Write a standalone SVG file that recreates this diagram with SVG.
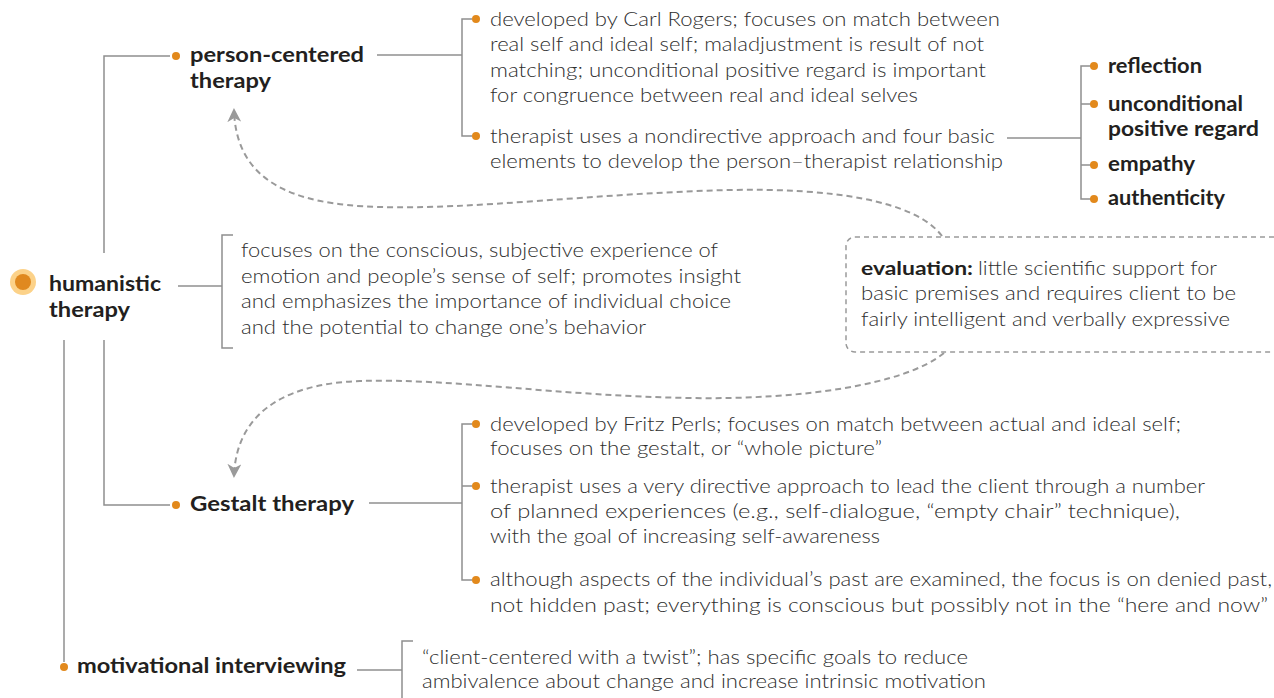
<svg xmlns="http://www.w3.org/2000/svg" width="1274" height="698" viewBox="0 0 1274 698">
<style>
.ln{fill:none;stroke:#8f8f8f;stroke-width:1.5}
.dash{fill:none;stroke:#9a9a9a;stroke-width:2;stroke-dasharray:6 4}
.dot{fill:#e2891c}
.h{font-family:Lato,"Liberation Sans",sans-serif;font-weight:700;font-size:20px;fill:#231f20}
.b{font-family:Lato,"Liberation Sans",sans-serif;font-weight:300;font-size:19px;fill:#2e2e2e}
</style>
<defs>
<marker id="arr" viewBox="0 0 14 14" refX="12" refY="7" markerWidth="14" markerHeight="14" markerUnits="userSpaceOnUse" orient="auto">
<path d="M0,0 L14,7 L0,14 L4,7 Z" fill="#9a9a9a"/>
</marker>
</defs>
<rect width="1274" height="698" fill="#ffffff"/>

<g id="connectors">
<path class="ln" d="M104 253 V56 H170"/>
<path class="ln" d="M104 340 V505 H170"/>
<path class="ln" d="M64 340 V662"/>
<path class="ln" d="M178 286 H222"/>
<path class="ln" d="M233 235 H222 V348 H233"/>
<path class="ln" d="M377 55 H462"/>
<path class="ln" d="M472 19 H462 V136 H472"/>
<path class="ln" d="M1007 138 H1081"/>
<path class="ln" d="M1091 66 H1081 V199 H1091"/>
<path class="ln" d="M1081 104 H1091"/>
<path class="ln" d="M1081 165 H1091"/>
<path class="ln" d="M369 503 H462"/>
<path class="ln" d="M472 424 H462 V580 H472"/>
<path class="ln" d="M462 486 H472"/>
<path class="ln" d="M357 670 H402"/>
<path class="ln" d="M413 641 H402 V698"/>
<path class="dash" d="M942 236 C915 200 830 188 730 190 C600 193 470 210 380 207 C290 205 236 180 234 110" marker-end="url(#arr)"/>
<path class="dash" d="M944 353 C905 385 800 400 690 398 C560 396 450 378 360 381 C275 384 236 420 234 476" marker-end="url(#arr)"/>
</g>

<g id="humanistic">
<circle cx="23" cy="282" r="13" fill="#fcd289"/>
<circle cx="23" cy="282" r="8" fill="#e0891f"/>
<text class="h" x="49" y="291" textLength="112" lengthAdjust="spacingAndGlyphs">humanistic</text>
<text class="h" x="49" y="317" textLength="81" lengthAdjust="spacingAndGlyphs">therapy</text>
</g>

<g id="humanistic-desc">
<text class="b" x="241" y="257" textLength="477" lengthAdjust="spacingAndGlyphs">focuses on the conscious, subjective experience of</text>
<text class="b" x="241" y="283" textLength="500" lengthAdjust="spacingAndGlyphs">emotion and people’s sense of self; promotes insight</text>
<text class="b" x="241" y="308" textLength="490" lengthAdjust="spacingAndGlyphs">and emphasizes the importance of individual choice</text>
<text class="b" x="241" y="334" textLength="405" lengthAdjust="spacingAndGlyphs">and the potential to change one’s behavior</text>
</g>

<g id="person-centered">
<circle class="dot" cx="176" cy="56" r="4"/>
<text class="h" x="190" y="62" textLength="174" lengthAdjust="spacingAndGlyphs">person-centered</text>
<text class="h" x="190" y="88" textLength="81" lengthAdjust="spacingAndGlyphs">therapy</text>
</g>

<g id="person-desc1">
<circle class="dot" cx="476" cy="19" r="4"/>
<text class="b" x="490" y="26" textLength="510" lengthAdjust="spacingAndGlyphs">developed by Carl Rogers; focuses on match between</text>
<text class="b" x="490" y="51" textLength="494" lengthAdjust="spacingAndGlyphs">real self and ideal self; maladjustment is result of not</text>
<text class="b" x="490" y="77" textLength="496" lengthAdjust="spacingAndGlyphs">matching; unconditional positive regard is important</text>
<text class="b" x="490" y="102" textLength="428" lengthAdjust="spacingAndGlyphs">for congruence between real and ideal selves</text>
</g>

<g id="person-desc2">
<circle class="dot" cx="476" cy="136" r="4"/>
<text class="b" x="490" y="143" textLength="505" lengthAdjust="spacingAndGlyphs">therapist uses a nondirective approach and four basic</text>
<text class="b" x="490" y="168" textLength="513" lengthAdjust="spacingAndGlyphs">elements to develop the person–therapist relationship</text>
</g>

<g id="reflection">
<circle class="dot" cx="1094" cy="66" r="4"/>
<text class="h" x="1108" y="73" textLength="94" lengthAdjust="spacingAndGlyphs">reflection</text>
</g>
<g id="upr">
<circle class="dot" cx="1094" cy="104" r="4"/>
<text class="h" x="1108" y="111" textLength="135" lengthAdjust="spacingAndGlyphs">unconditional</text>
<text class="h" x="1108" y="136" textLength="151" lengthAdjust="spacingAndGlyphs">positive regard</text>
</g>
<g id="empathy">
<circle class="dot" cx="1094" cy="165" r="4"/>
<text class="h" x="1108" y="171" textLength="87" lengthAdjust="spacingAndGlyphs">empathy</text>
</g>
<g id="authenticity">
<circle class="dot" cx="1094" cy="199" r="4"/>
<text class="h" x="1108" y="205" textLength="117" lengthAdjust="spacingAndGlyphs">authenticity</text>
</g>

<g id="evaluation">
<rect x="846" y="237" width="460" height="115" rx="9" fill="#ffffff" stroke="#9a9a9a" stroke-width="1.5" stroke-dasharray="5 4"/>
<text class="h" x="861" y="275" style="font-size:19px" textLength="112" lengthAdjust="spacingAndGlyphs">evaluation:</text>
<text class="b" x="978" y="275" textLength="239" lengthAdjust="spacingAndGlyphs">little scientific support for</text>
<text class="b" x="861" y="300" textLength="375" lengthAdjust="spacingAndGlyphs">basic premises and requires client to be</text>
<text class="b" x="861" y="326" textLength="369" lengthAdjust="spacingAndGlyphs">fairly intelligent and verbally expressive</text>
</g>

<g id="gestalt">
<circle class="dot" cx="176" cy="505" r="4"/>
<text class="h" x="190" y="511" textLength="164" lengthAdjust="spacingAndGlyphs">Gestalt therapy</text>
</g>

<g id="gestalt-desc1">
<circle class="dot" cx="476" cy="424" r="4"/>
<text class="b" x="490" y="431" textLength="691" lengthAdjust="spacingAndGlyphs">developed by Fritz Perls; focuses on match between actual and ideal self;</text>
<text class="b" x="490" y="455" textLength="392" lengthAdjust="spacingAndGlyphs">focuses on the gestalt, or “whole picture”</text>
</g>
<g id="gestalt-desc2">
<circle class="dot" cx="476" cy="486" r="4"/>
<text class="b" x="490" y="493" textLength="715" lengthAdjust="spacingAndGlyphs">therapist uses a very directive approach to lead the client through a number</text>
<text class="b" x="490" y="518" textLength="690" lengthAdjust="spacingAndGlyphs">of planned experiences (e.g., self-dialogue, “empty chair” technique),</text>
<text class="b" x="490" y="543" textLength="390" lengthAdjust="spacingAndGlyphs">with the goal of increasing self-awareness</text>
</g>
<g id="gestalt-desc3">
<circle class="dot" cx="476" cy="580" r="4"/>
<text class="b" x="490" y="586" textLength="782" lengthAdjust="spacingAndGlyphs">although aspects of the individual’s past are examined, the focus is on denied past,</text>
<text class="b" x="490" y="612" textLength="778" lengthAdjust="spacingAndGlyphs">not hidden past; everything is conscious but possibly not in the “here and now”</text>
</g>

<g id="motivational">
<circle class="dot" cx="64" cy="667" r="4"/>
<text class="h" x="77" y="673" textLength="269" lengthAdjust="spacingAndGlyphs">motivational interviewing</text>
</g>
<g id="motivational-desc">
<text class="b" x="422" y="664" textLength="546" lengthAdjust="spacingAndGlyphs">“client-centered with a twist”; has specific goals to reduce</text>
<text class="b" x="422" y="688" textLength="564" lengthAdjust="spacingAndGlyphs">ambivalence about change and increase intrinsic motivation</text>
</g>
</svg>
